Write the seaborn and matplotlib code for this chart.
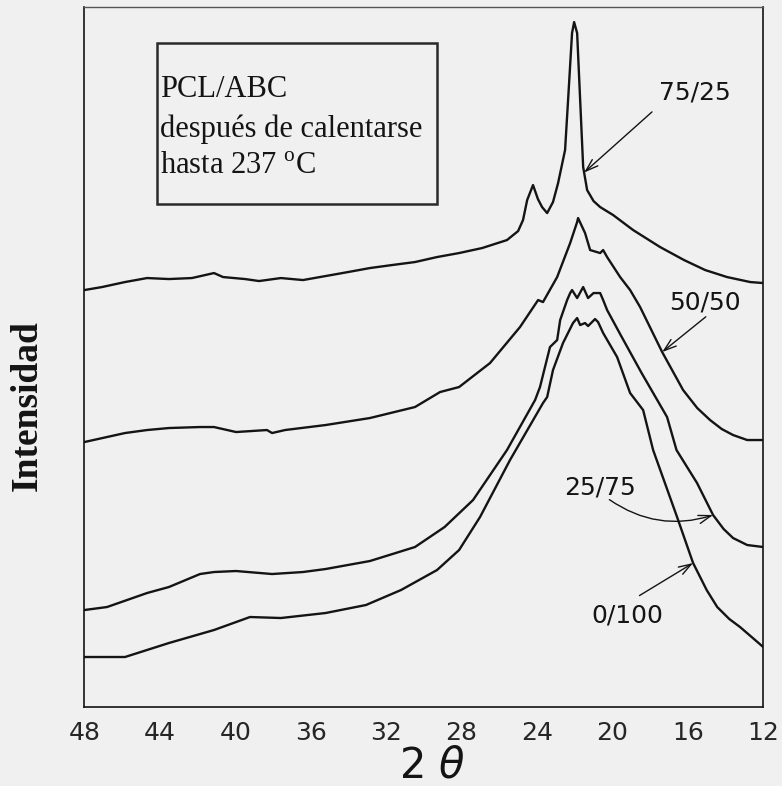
import numpy as np
import matplotlib
matplotlib.use("Agg")
import matplotlib.pyplot as plt
import seaborn as sns
from matplotlib.patches import Rectangle

# 2-theta (deg) and intensity (arbitrary)
th_75 = [48.0, 47.07, 45.85, 44.68, 43.52, 42.30, 41.13, 40.65, 39.48, 38.74, 37.58, 36.41,
         35.21, 34.02, 32.86, 31.69, 30.47, 29.30, 28.13, 26.91, 25.59, 25.0, 24.74, 24.52, 24.21,
         23.95, 23.73, 23.46, 23.15, 22.88, 22.51, 22.35, 22.14, 22.03, 21.87, 21.71, 21.55, 21.34,
         21.0, 20.65, 19.96, 18.90, 17.47, 16.20, 15.08, 13.92, 12.69, 12.0]
i_75 = [417, 420, 425, 429, 428, 429, 434, 430, 428, 426, 429, 427,
        431, 435, 439, 442, 445, 450, 454, 459, 467, 476, 487, 507, 522,
        508, 500, 494, 505, 524, 557, 607, 674, 685, 674, 607, 540, 517,
        506, 500, 492, 477, 460, 447, 437, 430, 425, 424]

th_50 = [48.0, 45.85, 44.68, 43.52, 41.87, 41.13, 39.96, 38.32, 38.05, 37.36, 35.21, 32.86,
         30.47, 29.14, 28.13, 26.49, 24.90, 23.94, 23.68, 22.93, 22.24, 21.87, 21.82, 21.45,
         21.18, 20.65, 20.49, 20.28, 19.59, 19.06, 18.53, 17.36, 16.25, 15.5, 14.82, 14.2, 13.60,
         12.85, 12.17, 12.0]
i_50 = [265, 274, 277, 279, 280, 280, 275, 277, 274, 277, 282, 289,
        300, 315, 320, 344, 380, 407, 405, 430, 464, 485, 489, 474,
        457, 454, 457, 450, 430, 417, 400, 355, 317, 299, 287, 278, 272,
        267, 267, 267]

th_25 = [48.0, 46.8, 44.68, 43.52, 41.87, 41.13, 39.96, 38.05, 36.41, 35.21, 32.86, 30.47,
         28.9, 27.39, 25.59, 24.10, 23.84, 23.31, 22.93, 22.77, 22.40, 22.24, 22.14, 21.87,
         21.55, 21.29, 21.0, 20.65, 20.49, 20.28, 19.59, 18.45, 17.10, 16.6, 15.51, 14.66,
         14.1, 13.60, 12.85, 12.0]
i_25 = [97, 100, 114, 120, 133, 135, 136, 133, 135, 138, 146, 160,
        180, 207, 257, 307, 320, 360, 367, 387, 407, 414, 417, 409,
        420, 409, 414, 414, 407, 397, 373, 334, 290, 257, 224, 192,
        178, 169, 162, 160]

th_0 = [48.0, 45.85, 43.52, 41.13, 39.22, 37.58, 35.21, 33.07, 31.21, 29.30, 28.13, 27.02,
        25.43, 23.68, 23.46, 23.15, 22.62, 22.09, 21.87, 21.71, 21.45, 21.29, 20.92, 20.76,
        20.49, 19.75, 19.06, 18.37, 17.84, 16.57, 15.72, 15.0, 14.44, 13.8, 13.23, 12.0]
i_0 = [50, 50, 64, 77, 90, 89, 94, 102, 117, 137, 157, 190,
       247, 304, 310, 337, 364, 384, 389, 382, 384, 381, 388, 385,
       374, 350, 314, 297, 257, 190, 144, 117, 100, 88, 80, 60]

series = [(th_75, i_75), (th_50, i_50), (th_25, i_25), (th_0, i_0)]
labels = ["75/25", "50/50", "25/75", "0/100"]
xticks = [48, 44, 40, 36, 32, 28, 24, 20, 16, 12]

sns.set_style("white")
plt.rcParams["mathtext.fontset"] = "custom"
plt.rcParams["mathtext.rm"] = "Liberation Serif"
plt.rcParams["mathtext.it"] = "DejaVu Sans:italic"

bg = "#f0f0f0"
ink = "#141414"

fig = plt.figure(figsize=(7.82, 7.86), dpi=100, facecolor=bg)
ax = fig.add_axes([0.108, 0.1005, 0.868, 0.8905])
ax.set_facecolor(bg)

for th, inten in series:
    sns.lineplot(x=th, y=inten, ax=ax, color=ink, linewidth=1.7, sort=False, estimator=None)

ax.set_xlim(48, 12)
ax.set_ylim(0, 700)
ax.set_xticks(xticks)
ax.set_xticklabels([str(t) for t in xticks], fontsize=18, family="DejaVu Sans")
ax.set_yticks([])
ax.tick_params(axis="x", direction="in", length=8, width=1.2, color=ink, pad=10)
for side in ["left", "bottom", "right"]:
    ax.spines[side].set_color(ink)
    ax.spines[side].set_linewidth(1.2)
ax.spines["top"].set_color("#555555")
ax.spines["top"].set_linewidth(1.0)

ax.set_xlabel(r"2 $\theta$", fontsize=30, color=ink, va="center")
ax.xaxis.set_label_coords(0.513, -0.083)
ax.set_ylabel("Intensidad", fontsize=27, fontweight="bold", family="Liberation Serif",
              color=ink, va="center")
ax.yaxis.set_label_coords(-0.085, 0.431)

# legend-like box
ax.add_patch(Rectangle((0.107, 0.7186), 0.4125, 0.23, transform=ax.transAxes,
                       facecolor=bg, edgecolor="#2a2a2a", linewidth=1.8, zorder=3))
box_lines = ["PCL/ABC", "después de calentarse", r"hasta 237 $^{\mathrm{o}}$C"]
for txt, yy in zip(box_lines, [0.871, 0.814, 0.761]):
    ax.text(0.111, yy, txt, transform=ax.transAxes, fontsize=22, family="Liberation Serif",
            va="baseline", ha="left", color=ink, zorder=4)

# labels with arrows
def on_curve(k, t):
    th, inten = series[k]
    return float(np.interp(t, th[::-1], inten[::-1]))

arrow = dict(arrowstyle="->,head_length=0.9,head_width=0.3", color=ink, lw=1.0,
             shrinkA=2, shrinkB=0)
txt_pos = [(15.61, 615), (15.09, 405), (20.65, 220), (19.22, 92)]
tail = [(17.79, 597), (14.93, 392), (20.28, 209), (18.69, 110)]
tip = [21.50, 17.36, 14.66, 15.72]
conn = ["arc3,rad=0", "arc3,rad=0", "arc3,rad=0.25", "arc3,rad=0"]
for k in range(4):
    ax.text(txt_pos[k][0], txt_pos[k][1], labels[k], fontsize=18, family="DejaVu Sans",
            ha="center", va="center", color=ink)
    a = dict(arrow)
    a["connectionstyle"] = conn[k]
    ax.annotate("", xy=(tip[k], on_curve(k, tip[k])), xytext=tail[k], arrowprops=a)

plt.savefig("out.png", dpi=100, facecolor=bg)
